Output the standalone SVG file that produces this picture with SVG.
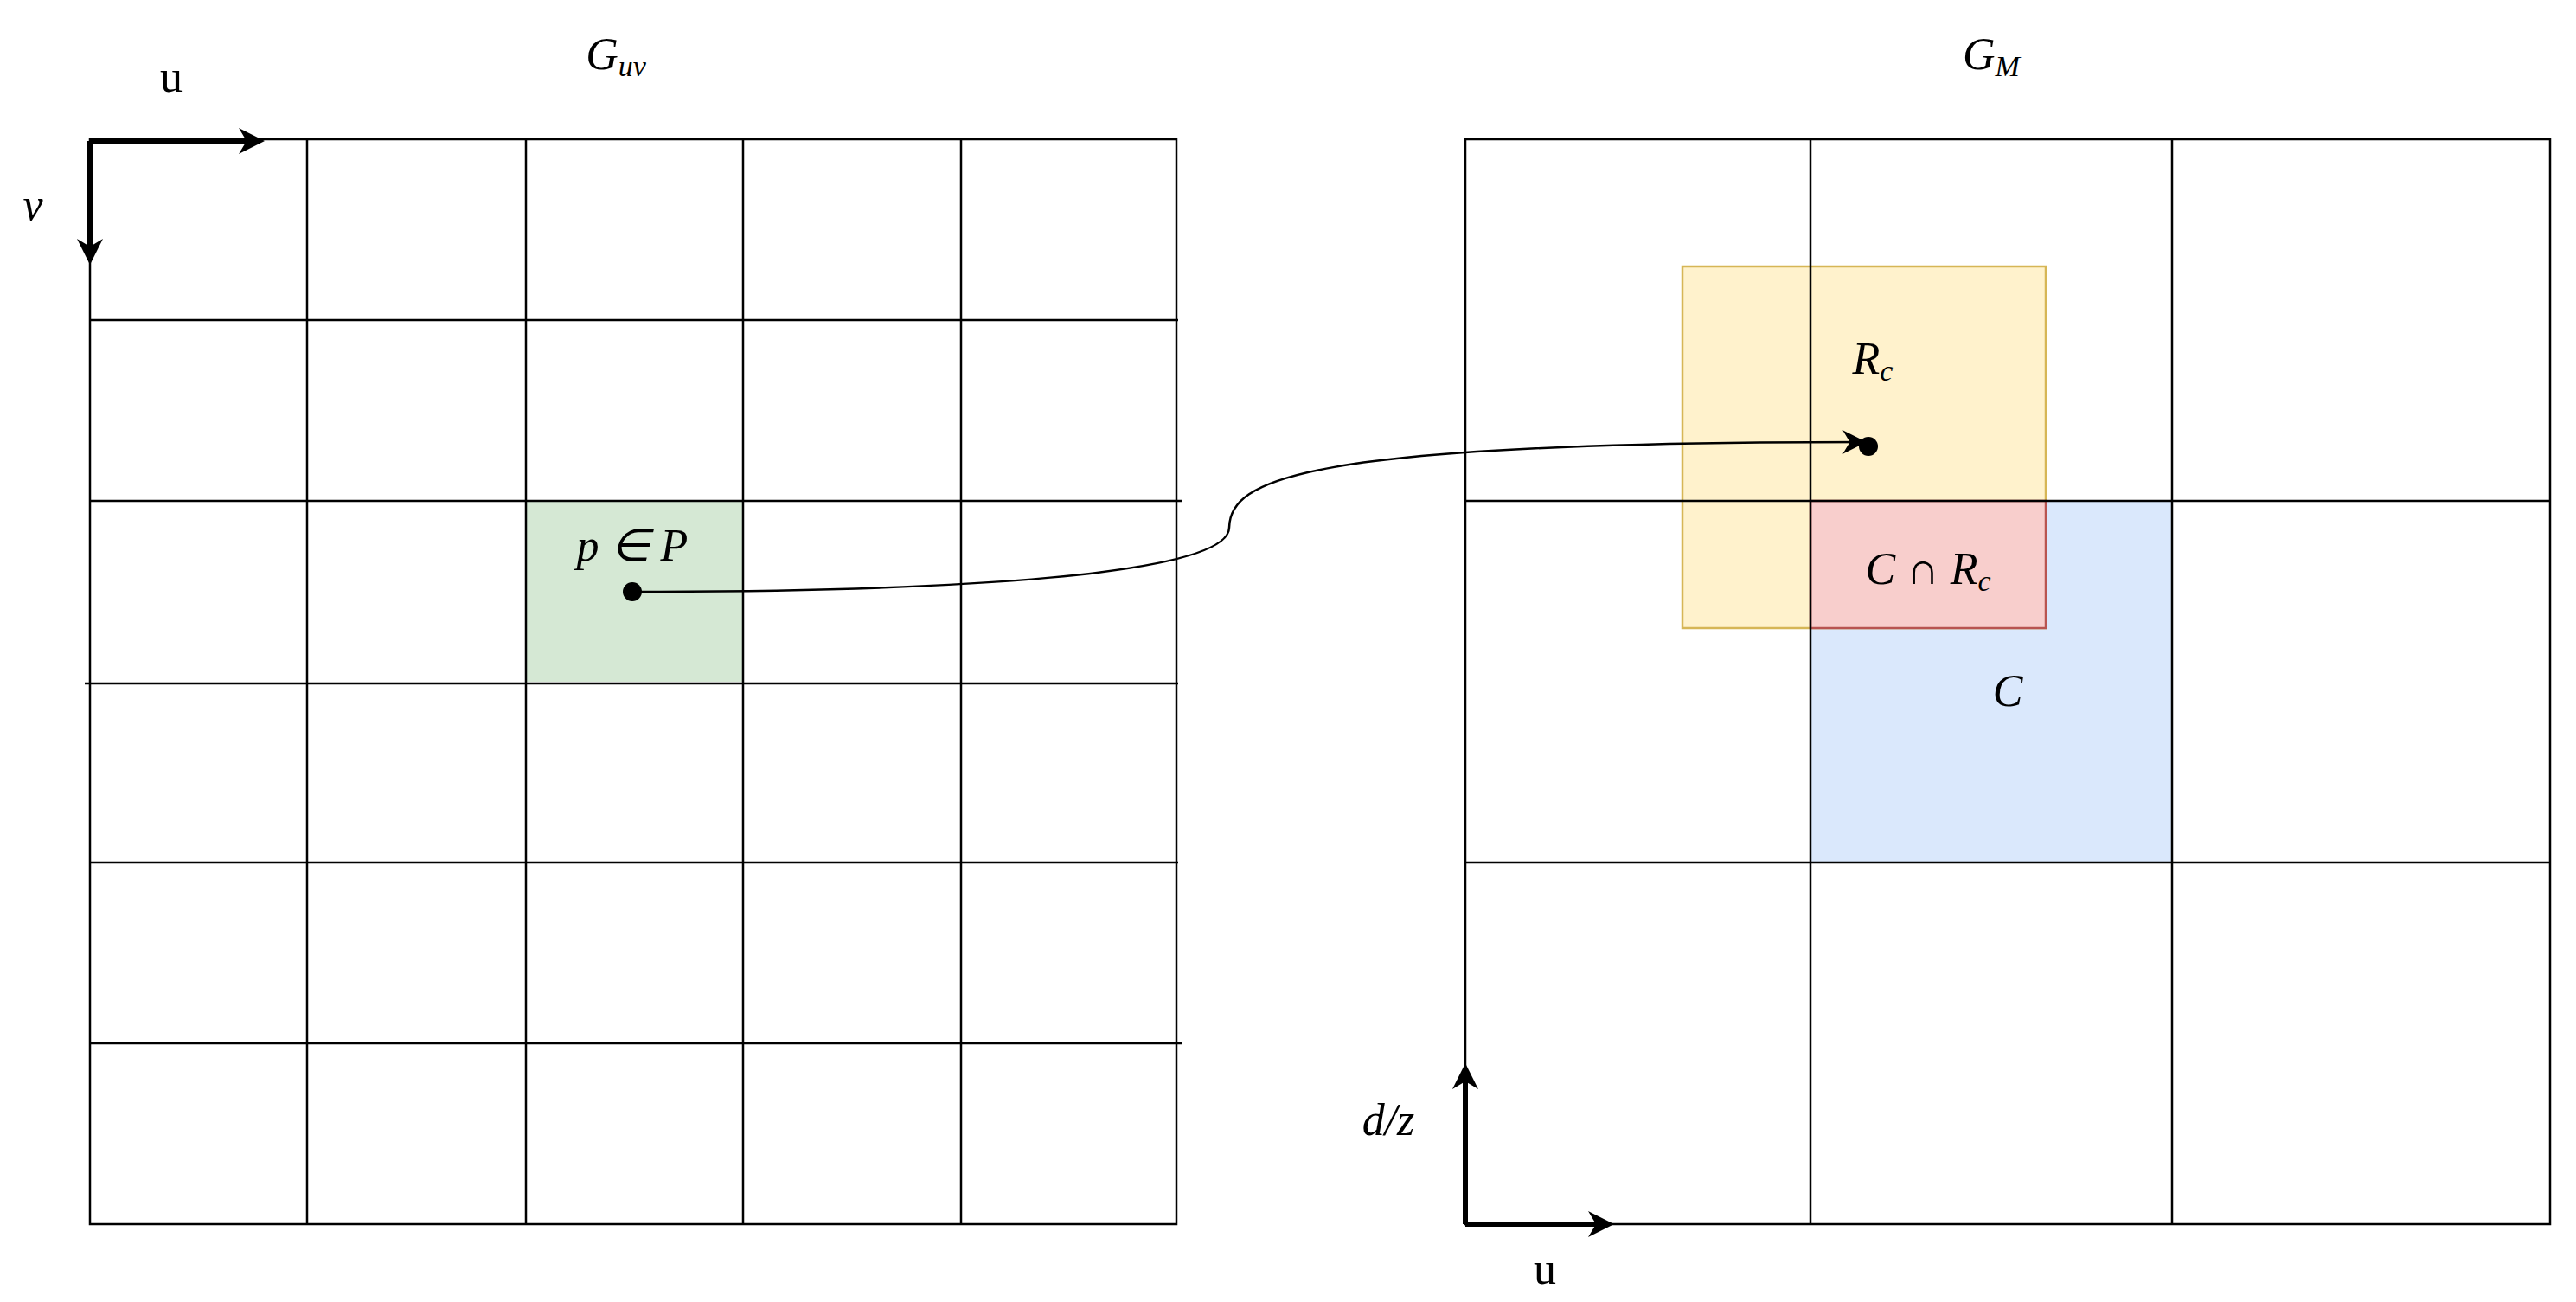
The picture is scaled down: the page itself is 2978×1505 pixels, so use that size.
<svg xmlns="http://www.w3.org/2000/svg" width="2978" height="1505" viewBox="0 0 2978 1505">
<style>
.g{stroke:#000;stroke-width:2.5;fill:none}
.t{font-family:"Liberation Serif",serif;font-size:52px;fill:#000}
.i{font-style:italic}
.ax{stroke:#000;stroke-width:6;fill:none}
</style>
<defs>
<marker id="ah" viewBox="0 0 10 10" refX="8" refY="5" markerWidth="5" markerHeight="5" orient="auto" markerUnits="strokeWidth"><path d="M0,0 L10,5 L0,10 L3,5 Z" fill="#000"/></marker>
<marker id="ah2" viewBox="0 0 10 10" refX="9" refY="5" markerWidth="11" markerHeight="11" orient="auto" markerUnits="strokeWidth"><path d="M0,0 L10,5 L0,10 L3,5 Z" fill="#000"/></marker>
</defs>
<rect width="2978" height="1505" fill="#fff"/>
<g id="cell-green"><rect x="608" y="579" width="251" height="209" fill="#d5e8d4"/></g>
<g id="region-blue"><rect x="2093" y="579" width="418" height="418" fill="#dae8fc" stroke="#6c8ebf" stroke-width="2"/></g>
<g id="region-yellow"><rect x="1945" y="308" width="420" height="418" fill="#fff2cc" stroke="#d6b656" stroke-width="2.5"/></g>
<g id="region-red"><rect x="2093" y="579" width="272" height="147" fill="#f8cecc" stroke="#b85450" stroke-width="2.5"/></g>
<g id="grid-uv" class="g">
<rect x="104" y="161" width="1256" height="1254"/>
<path d="M355,161V1415M608,161V1415M859,161V1415M1111,161V1415M104,370H1362M104,579H1366M98,790H1362M104,997H1362M104,1206H1366"/>
</g>
<g id="grid-m" class="g">
<rect x="1694" y="161" width="1254" height="1254"/>
<path d="M2093,161V1415M2511,161V1415M1694,579H2948M1694,997H2948"/>
</g>
<g id="connectors">
<path d="M731,684 C1100,684 1420,665 1421,610 C1422,555 1500,511 2155,511" fill="none" stroke="#000" stroke-width="2.5" marker-end="url(#ah2)"/>
<circle cx="731" cy="684" r="11"/>
<circle cx="2160" cy="516" r="11"/>
</g>
<g id="axes-uv">
<path class="ax" d="M104,163H300" marker-end="url(#ah)"/>
<path class="ax" d="M104,163V300" marker-end="url(#ah)"/>
<text class="t" x="198" y="106" text-anchor="middle">u</text>
<text class="t i" x="38" y="254" text-anchor="middle">v</text>
</g>
<g id="axes-m">
<path class="ax" d="M1694,1415V1235" marker-end="url(#ah)"/>
<path class="ax" d="M1694,1415H1860" marker-end="url(#ah)"/>
<text class="t i" x="1605" y="1312" text-anchor="middle">d/z</text>
<text class="t" x="1786" y="1484" text-anchor="middle">u</text>
</g>
<g id="labels">
<text class="t i" x="712" y="80" text-anchor="middle">G<tspan font-size="34" dy="8">uv</tspan></text>
<text class="t i" x="2302" y="80" text-anchor="middle">G<tspan font-size="34" dy="8">M</tspan></text>
<text class="t i" x="731" y="648" text-anchor="middle">p ∈ P</text>
<text class="t i" x="2165" y="432" text-anchor="middle">R<tspan font-size="34" dy="8">c</tspan></text>
<text class="t i" x="2229" y="675" text-anchor="middle">C ∩ R<tspan font-size="34" dy="8">c</tspan></text>
<text class="t i" x="2321" y="816" text-anchor="middle">C</text>
</g>
</svg>
